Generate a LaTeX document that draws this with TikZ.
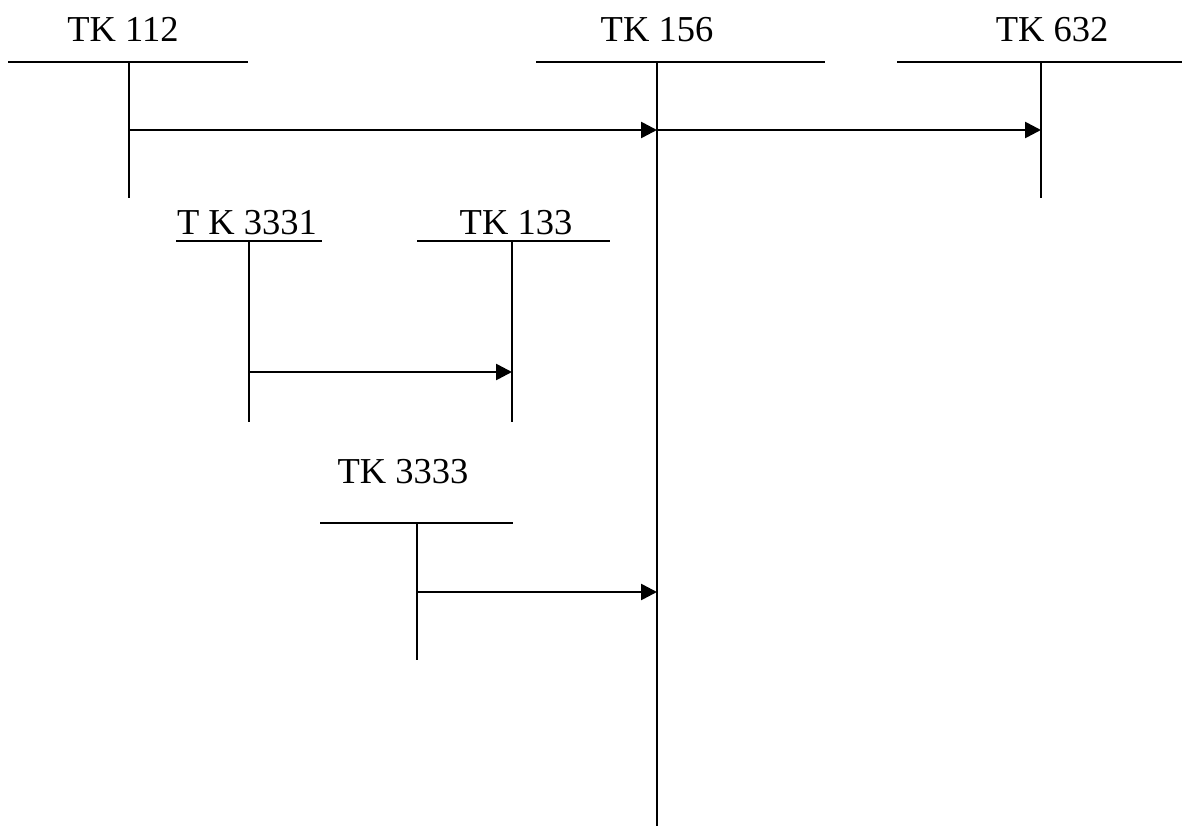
\documentclass[tikz,border=0pt]{standalone}
\usepackage{fontspec}
\setmainfont{Liberation Serif}
\usetikzlibrary{arrows.meta}
\begin{document}
\begin{tikzpicture}[x=1pt,y=-1pt,
  bar/.style={line width=2pt},
  stem/.style={line width=2.3pt},
  flow/.style={line width=2.6pt,-{Triangle[length=16pt,width=16pt]}},
  lbl/.style={anchor=base,inner sep=0pt,font=\fontsize{36.5}{40}\selectfont}]
\useasboundingbox (0,0) rectangle (1182,826);
% labels
\node[lbl] (l112) at (123,42) {TK 112};
\node[lbl] (l156) at (657,42) {TK 156};
\node[lbl] (l632) at (1052,42) {TK 632};
\node[lbl] (l3331) at (247,235) {T K 3331};
\node[lbl] (l133) at (516,235) {TK 133};
\node[lbl] (l3333) at (403,483) {TK 3333};
% bars
\coordinate (b112a) at (8,62);   \coordinate (b112b) at (248,62);
\coordinate (b156a) at (536,62); \coordinate (b156b) at (825,62);
\coordinate (b632a) at (897,62); \coordinate (b632b) at (1182,62);
\coordinate (b3331a) at (176,241); \coordinate (b3331b) at (322,241);
\coordinate (b133a) at (417,241); \coordinate (b133b) at (610,241);
\coordinate (b3333a) at (320,523); \coordinate (b3333b) at (513,523);
\draw[bar] (b112a) -- (b112b);
\draw[bar] (b156a) -- (b156b);
\draw[bar] (b632a) -- (b632b);
\draw[bar] (b3331a) -- (b3331b);
\draw[bar] (b133a) -- (b133b);
\draw[bar] (b3333a) -- (b3333b);
% stems
\coordinate (s112t) at (129,62);   \coordinate (s112b) at (129,198);
\coordinate (s156t) at (657,62);   \coordinate (s156b) at (657,826);
\coordinate (s632t) at (1041,62);  \coordinate (s632b) at (1041,198);
\coordinate (s3331t) at (249,241); \coordinate (s3331b) at (249,422);
\coordinate (s133t) at (512,241);  \coordinate (s133b) at (512,422);
\coordinate (s3333t) at (417,523); \coordinate (s3333b) at (417,660);
\draw[stem] (s112t) -- (s112b);
\draw[stem] (s156t) -- (s156b);
\draw[stem] (s632t) -- (s632b);
\draw[stem] (s3331t) -- (s3331b);
\draw[stem] (s133t) -- (s133b);
\draw[stem] (s3333t) -- (s3333b);
% arrows
\coordinate (a1s) at (129,130); \coordinate (a1e) at (657,130);
\coordinate (a2e) at (1041,130);
\coordinate (a3s) at (249,372); \coordinate (a3e) at (512,372);
\coordinate (a4s) at (417,592); \coordinate (a4e) at (657,592);
\draw[flow] (a1s) -- (a1e);
\draw[flow] (a1e) -- (a2e);
\draw[flow] (a3s) -- (a3e);
\draw[flow] (a4s) -- (a4e);
\end{tikzpicture}
\end{document}
